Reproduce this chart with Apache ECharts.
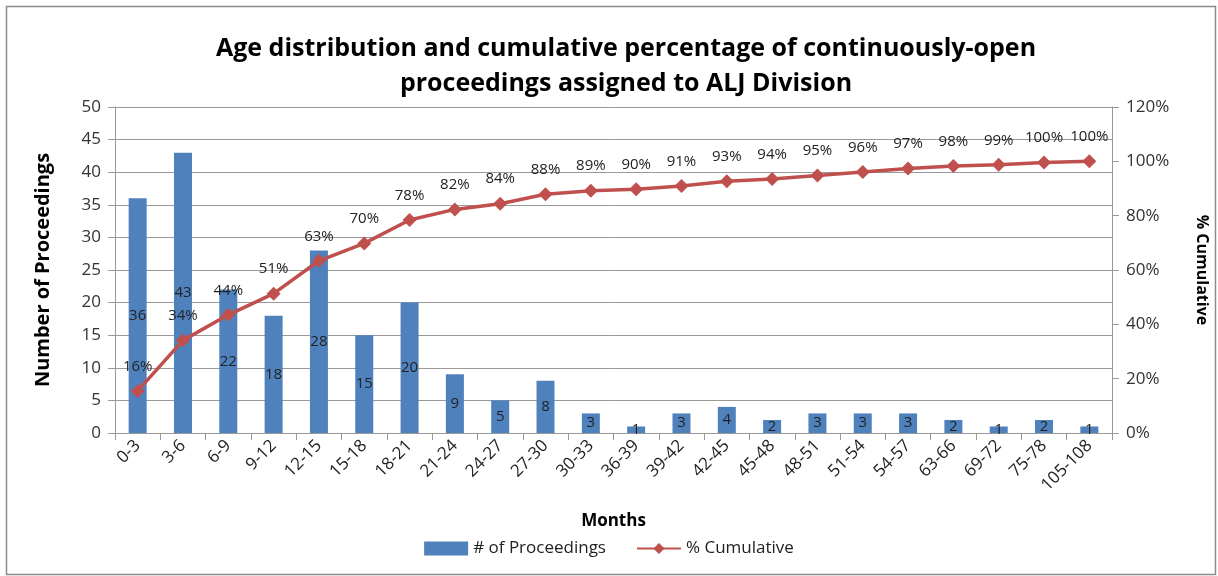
<!DOCTYPE html>
<html>
<head>
<meta charset="utf-8">
<script src="https://cdn.jsdelivr.net/npm/echarts@6/dist/echarts.min.js"></script>
<style>html,body{margin:0;padding:0;background:#fff;}#c{width:1218px;height:576px;}</style>
</head>
<body>
<div id="c"></div>
<script>
const categories = ['0-3','3-6','6-9','9-12','12-15','15-18','18-21','21-24','24-27','27-30','30-33','36-39','39-42','42-45','45-48','48-51','51-54','54-57','63-66','69-72','75-78','105-108'];
const proceedings = [36,43,22,18,28,15,20,9,5,8,3,1,3,4,2,3,3,3,2,1,2,1];
const cumulative = [15.5,34.1,43.5,51.3,63.4,69.8,78.4,82.3,84.4,87.9,89.2,89.7,90.9,92.7,93.5,94.8,96.1,97.4,98.3,98.7,99.6,100];
const leftTicks = {min:0, max:50, interval:5};
const rightTicks = {min:0, max:120, interval:20};

const FONT = '"Open Sans", "Liberation Sans", sans-serif';
const chart = echarts.init(document.getElementById('c'), null, {renderer:'canvas'});
chart.setOption({
  animation:false,
  backgroundColor:'#fff',
  textStyle:{fontFamily:FONT},
  graphic:[{type:'rect', left:4, top:4, shape:{width:1209, height:568}, style:{fill:'none', stroke:'#8c8c8c', lineWidth:1.5}, silent:true}],
  title:{
    text:'Age distribution and cumulative percentage of continuously-open\nproceedings assigned to ALJ Division',
    left:621, textAlign:'center', top:26,
    textStyle:{fontFamily:FONT, fontSize:25, fontWeight:'bold', color:'#000', lineHeight:35}
  },
  legend:{
    bottom:14, left:'center',
    itemGap:30, itemWidth:44, itemHeight:14,
    textStyle:{fontFamily:FONT, fontSize:17, color:'#222'},
    data:[{name:'# of Proceedings', icon:'rect'}, {name:'% Cumulative'}]
  },
  grid:{left:115, right:105, top:107, bottom:143},
  xAxis:{
    type:'category', data:categories,
    name:'Months', nameLocation:'middle', nameGap:80,
    nameTextStyle:{fontFamily:FONT, fontSize:17, fontWeight:'bold', color:'#000'},
    axisLine:{lineStyle:{color:'#999'}},
    axisTick:{show:true, length:7, lineStyle:{color:'#999'}},
    axisLabel:{interval:0, rotate:45, fontSize:17, color:'#222', margin:10}
  },
  yAxis:[{
    type:'value', min:leftTicks.min, max:leftTicks.max, interval:leftTicks.interval,
    name:'Number of Proceedings', nameLocation:'middle', nameGap:62, nameRotate:90,
    nameTextStyle:{fontFamily:FONT, fontSize:20, fontWeight:'bold', color:'#000'},
    axisLine:{show:true, lineStyle:{color:'#999'}},
    axisTick:{show:true, length:7, lineStyle:{color:'#999'}},
    axisLabel:{fontSize:17, color:'#333', margin:14},
    splitLine:{lineStyle:{color:'#999'}}
  },{
    type:'value', min:rightTicks.min, max:rightTicks.max, interval:rightTicks.interval,
    name:'% Cumulative', nameLocation:'middle', nameGap:82, nameRotate:-90,
    nameTextStyle:{fontFamily:FONT, fontSize:16, fontWeight:'bold', color:'#000'},
    axisLine:{show:true, lineStyle:{color:'#999'}},
    axisTick:{show:true, length:7, lineStyle:{color:'#999'}},
    axisLabel:{fontSize:17, color:'#333', margin:14, formatter:'{value}%'},
    splitLine:{show:false}
  }],
  series:[{
    name:'# of Proceedings', type:'bar', data:proceedings, barWidth:18,
    itemStyle:{color:'#4F81BD'},
    label:{show:true, position:'inside', fontSize:15, color:'#222', fontFamily:FONT}
  },{
    name:'% Cumulative', type:'line', yAxisIndex:1, data:cumulative,
    symbol:'diamond', symbolSize:14,
    lineStyle:{color:'#C0504D', width:3.5},
    itemStyle:{color:'#C0504D'},
    label:{show:true, position:'top', distance:10, fontSize:15, color:'#222', fontFamily:FONT,
      formatter:p=>Math.round(p.value)+'%'}
  }]
});
</script>
</body>
</html>
